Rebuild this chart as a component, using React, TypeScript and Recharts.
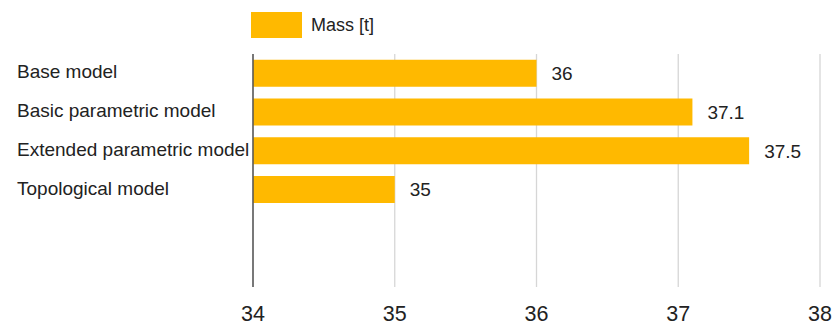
import { BarChart, Bar, XAxis, YAxis, CartesianGrid, Legend, LabelList } from "recharts";

const models = ["Base model", "Basic parametric model", "Extended parametric model", "Topological model"];
const mass = [36, 37.1, 37.5, 35];
const xTicks = [34, 35, 36, 37, 38];

const data = models.map((name, i) => ({ name, mass: mass[i] }));

const FONT = '"Liberation Sans", Arial, sans-serif';
const BAR = "#FFB900";

function CategoryTick({ y, payload }: any) {
  return (
    <text x={17} y={y} dy={5} textAnchor="start" fontSize={19} fill="#222" fontFamily={FONT}>
      {payload.value}
    </text>
  );
}

function LegendBox() {
  return (
    <div style={{ display: "flex", alignItems: "center", fontFamily: FONT, fontSize: 18, color: "#222" }}>
      <div style={{ width: 51, height: 26, background: BAR, marginRight: 9 }} />
      <span>Mass [t]</span>
    </div>
  );
}

export default function App() {
  return (
    <div style={{ position: "absolute", left: 0, top: 0, background: "#fff" }}>
      <BarChart
        width={834}
        height={325}
        data={data}
        layout="vertical"
        margin={{ top: 28, right: 14, bottom: 0, left: 0 }}
        barCategoryGap="15%"
      >
        <Legend
          verticalAlign="top"
          align="left"
          content={() => <LegendBox />}
          wrapperStyle={{ top: 12, left: 251, width: "auto" }}
        />
        <CartesianGrid horizontal={false} stroke="#d6d6d6" strokeWidth={1.3} />
        <XAxis
          type="number"
          domain={[34, 38]}
          ticks={xTicks}
          axisLine={false}
          tickLine={false}
          height={38}
          tick={{ fontSize: 21.5, fill: "#222", fontFamily: FONT, dy: 11 }}
        />
        <YAxis
          type="category"
          dataKey="name"
          width={253}
          axisLine={{ stroke: "#555", strokeWidth: 1.5 }}
          tickLine={false}
          tick={<CategoryTick />}
          padding={{ top: 0, bottom: 78 }}
        />
        <Bar dataKey="mass" fill={BAR} isAnimationActive={false}>
          <LabelList
            dataKey="mass"
            position="right"
            offset={15}
            fontSize={19}
            fill="#222"
            fontFamily={FONT}
          />
        </Bar>
      </BarChart>
    </div>
  );
}
